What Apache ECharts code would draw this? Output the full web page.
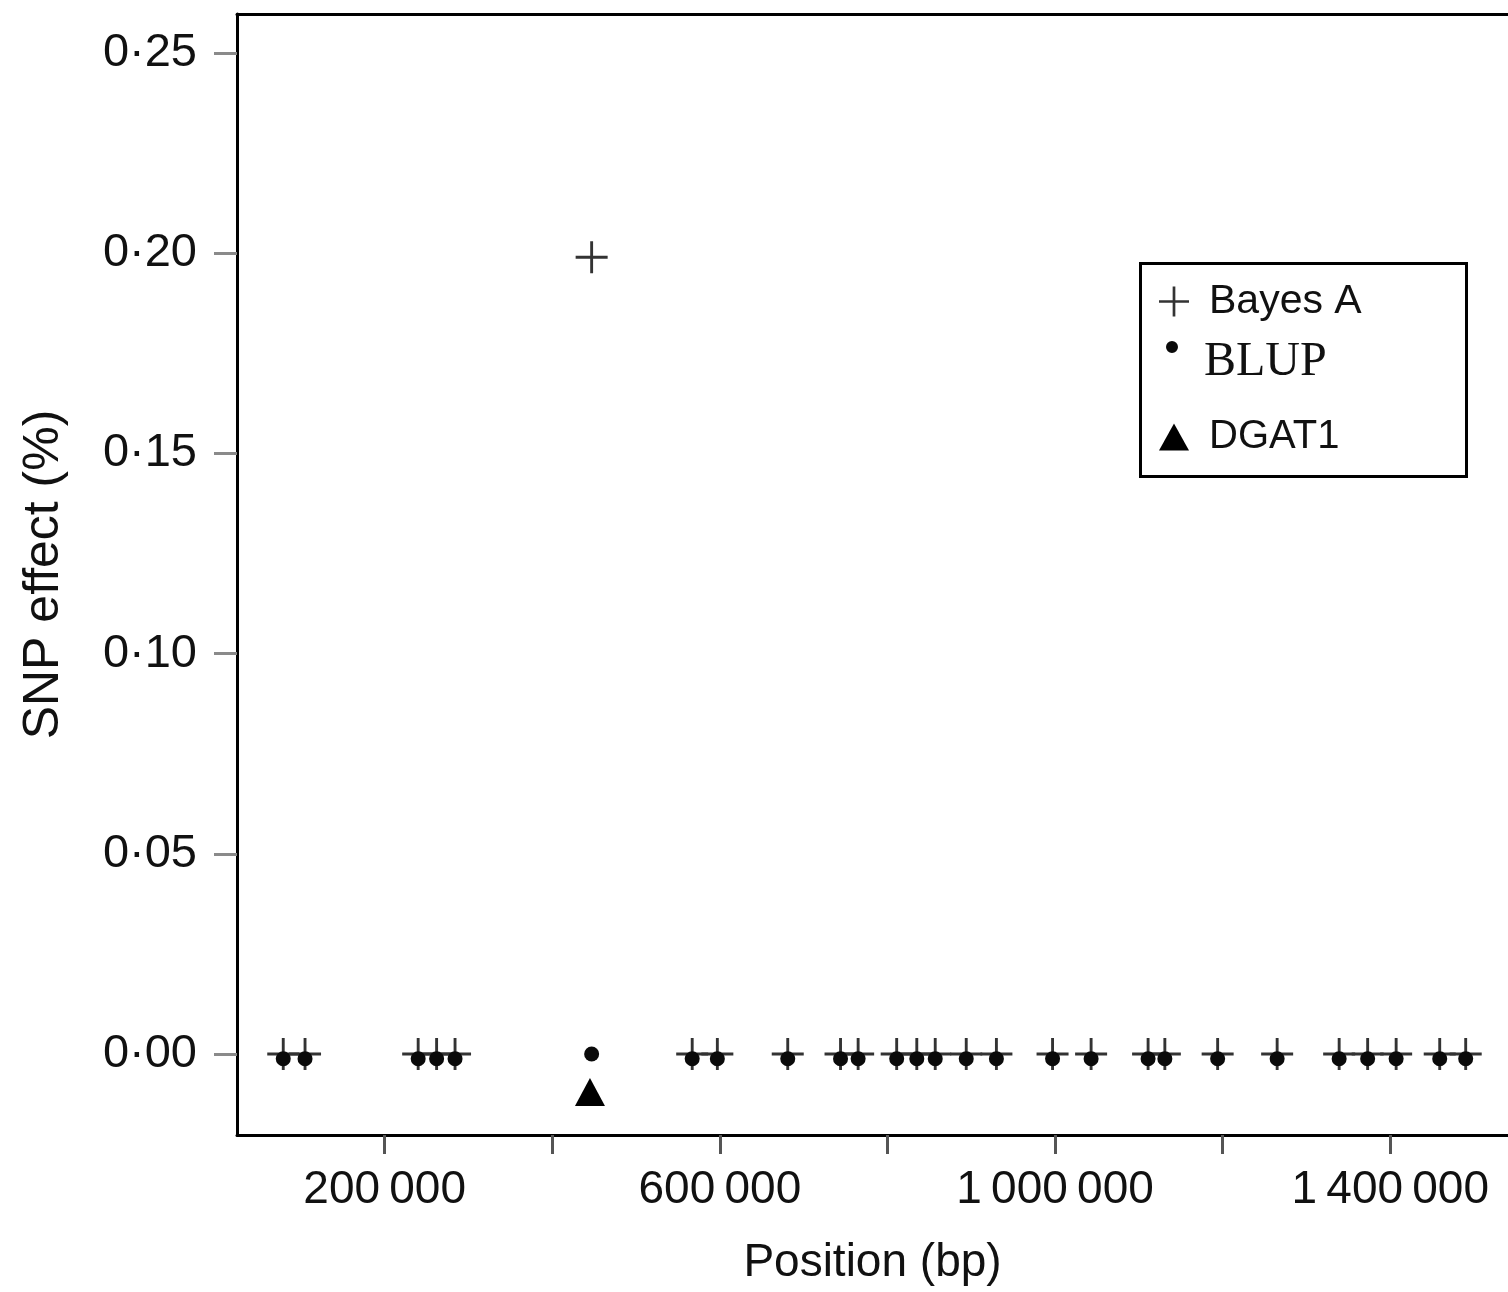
<!DOCTYPE html>
<html>
<head>
<meta charset="utf-8">
<style>
  html, body { margin: 0; padding: 0; background: #fff; }
  #chart { width: 1508px; height: 1292px; }
</style>
<script src="https://cdn.jsdelivr.net/npm/echarts@6/dist/echarts.min.js"></script>
</head>
<body>
<div id="chart"></div>
<script>
// SNP positions along the chromosome segment (bp)
const snpPositions = [79000, 105000, 240000, 262000, 284000, 447000, 567000, 597000, 681000,
  744000, 765000, 811000, 835000, 857000, 894000, 930000, 997000, 1043000, 1111000, 1131000,
  1194000, 1265000, 1339000, 1373000, 1407000, 1459000, 1490000];
// Estimated SNP effects (%) by method
const bayesAEffects = [0, 0, 0, 0, 0, 0.199, 0, 0, 0, 0, 0, 0, 0, 0, 0, 0, 0, 0, 0, 0, 0, 0, 0, 0, 0, 0, 0];
const blupEffects = [-0.0012, -0.0012, -0.0012, -0.0012, -0.0012, 0, -0.0012, -0.0012, -0.0012,
  -0.0012, -0.0012, -0.0012, -0.0012, -0.0012, -0.0012, -0.0012, -0.0012, -0.0012, -0.0012,
  -0.0012, -0.0012, -0.0012, -0.0012, -0.0012, -0.0012, -0.0012, -0.0012];
// DGAT1 gene location marker
const dgat1Positions = [445000];
const dgat1Values = [-0.0095];
// Axis ticks and labels
const xTickValues = [200000, 400000, 600000, 800000, 1000000, 1200000, 1400000];
const xLabelValues = [200000, 600000, 1000000, 1400000];
const yTickValues = [0, 0.05, 0.10, 0.15, 0.20, 0.25];

const X_MIN = 23810, X_MAX = 1540476;
const Y_MIN = -0.02023, Y_MAX = 0.25974;

const plusPath = 'path://M45.5,0H54.5V45.5H100V54.5H54.5V100H45.5V54.5H0V45.5H45.5Z';
const triPath = 'path://M50,0L100,90L0,90Z';
const dotPath = 'path://M0,6A6,6 0 1,1 12,6A6,6 0 1,1 0,6Z M6,42L6,42.01';

function groupThousands(v) {
  return String(Math.round(v)).replace(/\B(?=(\d{3})+(?!\d))/g, '\u2009');
}

const pairs = (xs, ys) => xs.map((x, i) => [x, ys[i]]);

const chart = echarts.init(document.getElementById('chart'), null, { renderer: 'canvas' });

const sans = 'Liberation Sans, Arial, sans-serif';

chart.setOption({
  animation: false,
  backgroundColor: '#ffffff',
  grid: { left: 237, top: 14, right: -3, bottom: 157, containLabel: false },
  xAxis: [{
    type: 'value', min: X_MIN, max: X_MAX, position: 'bottom',
    name: 'Position (bp)', nameLocation: 'middle', nameGap: 105,
    nameTextStyle: { fontFamily: sans, fontSize: 46, color: '#111' },
    axisLine: { show: true, onZero: false, lineStyle: { color: '#000', width: 3 } },
    axisTick: { show: true, customValues: xTickValues, length: 19, lineStyle: { color: '#555', width: 3 } },
    axisLabel: {
      show: true, customValues: xLabelValues, margin: 32,
      fontFamily: sans, fontSize: 46, color: '#111',
      formatter: v => groupThousands(v)
    },
    splitLine: { show: false }
  }, {
    type: 'value', min: X_MIN, max: X_MAX, position: 'top',
    axisLine: { show: true, onZero: false, lineStyle: { color: '#000', width: 3 } },
    axisTick: { show: false }, axisLabel: { show: false }, splitLine: { show: false }
  }],
  yAxis: {
    type: 'value', min: Y_MIN, max: Y_MAX,
    name: 'SNP effect (%)', nameLocation: 'middle', nameGap: 168,
    nameTextStyle: { fontFamily: sans, fontSize: 50, color: '#111' },
    axisLine: { show: true, onZero: false, lineStyle: { color: '#000', width: 3 } },
    axisTick: { show: true, customValues: yTickValues, length: 23, lineStyle: { color: '#8a8a8a', width: 3 } },
    axisLabel: {
      show: true, customValues: yTickValues, margin: 40,
      fontFamily: sans, fontSize: 47, color: '#111',
      formatter: v => v.toFixed(2).replace('.', '\u00b7')
    },
    splitLine: { show: false }
  },
  legend: [{
    left: 1159, top: 281, orient: 'vertical', padding: 0, selectedMode: false,
    itemWidth: 60, itemHeight: 30,
    textStyle: { fontFamily: sans, fontSize: 41, color: '#111' },
    data: [{ name: 'Bayes A', icon: plusPath }]
  }, {
    left: 1166, top: 338, orient: 'vertical', padding: 0, selectedMode: false,
    itemWidth: 54, itemHeight: 42,
    textStyle: { fontFamily: 'Liberation Serif, Times New Roman, serif', fontSize: 48, color: '#111' },
    data: [{ name: 'BLUP', icon: dotPath }]
  }, {
    left: 1159, top: 417, orient: 'vertical', padding: 0, selectedMode: false,
    itemWidth: 60, itemHeight: 27,
    textStyle: { fontFamily: sans, fontSize: 40, color: '#111' },
    data: [{ name: 'DGAT1', icon: triPath }]
  }],
  graphic: [{
    type: 'rect', z: 100, silent: true,
    shape: { x: 1140.5, y: 263.5, width: 326, height: 213 },
    style: { fill: null, stroke: '#000', lineWidth: 3 }
  }],
  series: [{
    name: 'Bayes A', type: 'scatter', xAxisIndex: 0,
    symbol: plusPath, symbolSize: 32,
    itemStyle: { color: '#333', opacity: 1 },
    data: pairs(snpPositions, bayesAEffects), z: 3
  }, {
    name: 'BLUP', type: 'scatter', xAxisIndex: 0,
    symbol: 'circle', symbolSize: 15,
    itemStyle: { color: '#0a0a0a', opacity: 1 },
    data: pairs(snpPositions, blupEffects), z: 4
  }, {
    name: 'DGAT1', type: 'scatter', xAxisIndex: 0,
    symbol: 'triangle', symbolSize: [30, 28],
    itemStyle: { color: '#000', opacity: 1 },
    data: pairs(dgat1Positions, dgat1Values), z: 4
  }]
});
</script>
</body>
</html>
